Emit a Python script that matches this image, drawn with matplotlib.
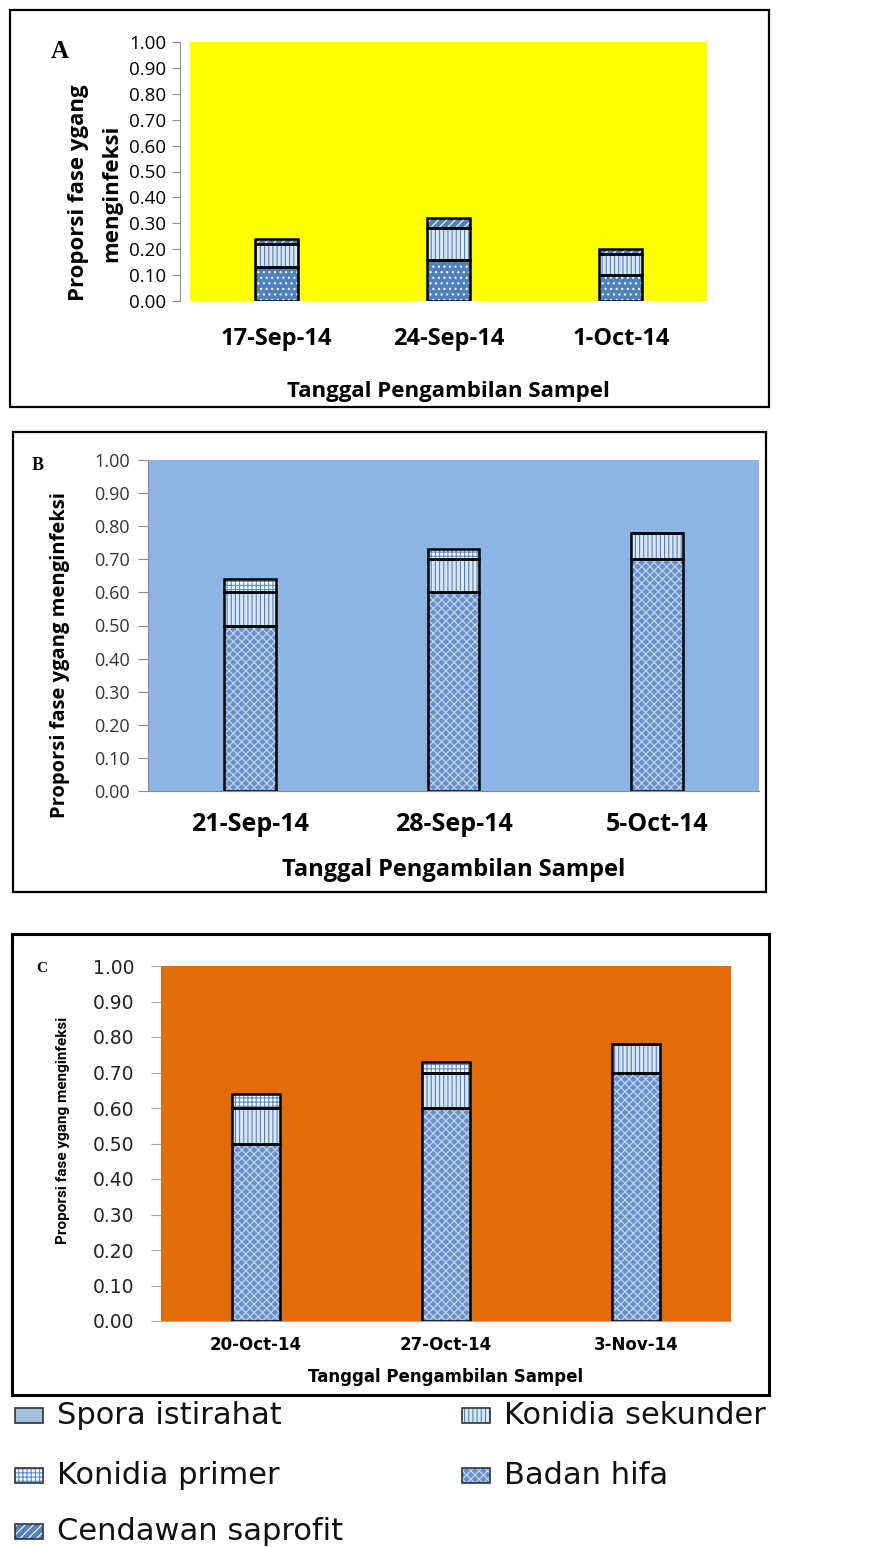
import numpy as np
import matplotlib
matplotlib.use("Agg")
import matplotlib.pyplot as plt
from matplotlib.patches import Rectangle

# ---------------- data ----------------
dates_a = ['17-Sep-14', '24-Sep-14', '1-Oct-14']
badan_hifa_a = [0.13, 0.16, 0.10]
konidia_sekunder_a = [0.09, 0.12, 0.08]
cendawan_saprofit_a = [0.02, 0.04, 0.02]

dates_b = ['21-Sep-14', '28-Sep-14', '5-Oct-14']
badan_hifa_b = [0.50, 0.60, 0.70]
konidia_sekunder_b = [0.10, 0.10, 0.08]
konidia_primer_b = [0.04, 0.03, 0.00]

dates_c = ['20-Oct-14', '27-Oct-14', '3-Nov-14']
badan_hifa_c = [0.50, 0.60, 0.70]
konidia_sekunder_c = [0.10, 0.10, 0.08]
konidia_primer_c = [0.04, 0.03, 0.00]

y_ticks = [0.0, 0.1, 0.2, 0.3, 0.4, 0.5, 0.6, 0.7, 0.8, 0.9, 1.0]
legend_labels = ['Spora istirahat', 'Konidia primer', 'Cendawan saprofit',
                 'Konidia sekunder', 'Badan hifa']

# ---------------- styles ----------------
plt.rcParams['hatch.linewidth'] = 0.8
STY = {
    'Spora istirahat': dict(fc='#A7BFDE', hatch='', hc='#A7BFDE'),
    'Konidia sekunder': dict(fc='#DCE6F2', hatch='||||', hc='#4F81BD'),
    'Konidia primer': dict(fc='#FFFFFF', hatch='++++', hc='#5B8BC6'),
    'Badan hifa': dict(fc='#6A90CC', hatch='xxxx', hc='#C6D9F1'),
    'Badan hifa A': dict(fc='#4F81BD', hatch='...', hc='#FFFFFF'),
    'Cendawan saprofit': dict(fc='#4F81BD', hatch='////', hc='#FFFFFF'),
}

W, H = 877, 1547
fig = plt.figure(figsize=(W / 100, H / 100), dpi=100)


def fx(px):
    return px / W


def fy(py):
    return 1 - py / H


def add_ax(x0, y0, x1, y1):
    return fig.add_axes([fx(x0), fy(y1), (x1 - x0) / W, (y1 - y0) / H])


def box(x0, y0, x1, y1, lw=1.6):
    fig.patches.append(Rectangle((fx(x0), fy(y1)), (x1 - x0) / W, (y1 - y0) / H,
                                 transform=fig.transFigure, fill=False,
                                 edgecolor='black', linewidth=lw))


def stack(ax, dates, layers, width=0.25, lw=1.8):
    x = np.arange(len(dates))
    bottom = np.zeros(len(dates))
    for vals, key in layers:
        s = STY[key]
        vals = np.asarray(vals)
        ax.bar(x, vals, width, bottom=bottom, color=s['fc'], hatch=s['hatch'],
               edgecolor=s['hc'], linewidth=0, zorder=2)
        ax.bar(x, vals, width, bottom=bottom, fill=False, edgecolor='black',
               linewidth=lw, zorder=3)
        bottom = bottom + vals
    ax.set_xlim(-0.5, len(dates) - 0.5)
    ax.set_ylim(0, 1.0)
    ax.set_xticks(x)
    ax.set_xticklabels(dates)
    ax.set_yticks(y_ticks)
    ax.set_yticklabels([f'{v:.2f}' for v in y_ticks])


# ---------------- Panel A ----------------
box(10, 10, 769, 407)
axA = add_ax(190, 42, 707, 301)
axA.set_facecolor('#FFFF00')
stack(axA, dates_a, [(badan_hifa_a, 'Badan hifa A'),
                     (konidia_sekunder_a, 'Konidia sekunder'),
                     (cendawan_saprofit_a, 'Cendawan saprofit')])
for sp in ['top', 'right', 'bottom']:
    axA.spines[sp].set_visible(False)
axA.spines['left'].set_position(('outward', 7))
axA.spines['left'].set_color('#8C8C8C')
axA.tick_params(axis='y', length=6, color='#8C8C8C', labelsize=13.5, pad=4)
axA.tick_params(axis='x', length=0, labelsize=17, pad=19)
for t in axA.get_yticklabels():
    t.set_fontfamily('Open Sans')
for t in axA.get_xticklabels():
    t.set_fontfamily('Open Sans')
    t.set_fontweight('bold')
axA.set_xlabel('Tanggal Pengambilan Sampel', fontfamily='Open Sans',
               fontweight='bold', fontsize=16, labelpad=21)
fig.text(fx(95), fy(193), 'Proporsi fase ygang\nmenginfeksi', fontfamily='Open Sans',
         fontweight='bold', fontsize=16, rotation=90, ha='center', va='center',
         linespacing=1.75, multialignment='center')
fig.text(fx(60), fy(52), 'A', fontfamily='Liberation Serif', fontweight='bold',
         fontsize=18, ha='center', va='center')

# ---------------- Panel B ----------------
box(13, 432, 766, 892)
axB = add_ax(148, 460, 759, 791)
axB.set_facecolor('#8EB4E3')
stack(axB, dates_b, [(badan_hifa_b, 'Badan hifa'),
                     (konidia_sekunder_b, 'Konidia sekunder'),
                     (konidia_primer_b, 'Konidia primer')], width=0.255)
for sp in ['top', 'right']:
    axB.spines[sp].set_visible(False)
axB.spines['left'].set_color('#8C8C8C')
axB.spines['bottom'].set_color('#8C8C8C')
axB.tick_params(axis='y', length=7, color='#8C8C8C', labelsize=13, pad=6,
                labelcolor='#333333')
axB.tick_params(axis='x', length=0, labelsize=18, pad=15)
for t in axB.get_yticklabels():
    t.set_fontfamily('Open Sans')
for t in axB.get_xticklabels():
    t.set_fontfamily('Open Sans')
    t.set_fontweight('bold')
axB.set_xlabel('Tanggal Pengambilan Sampel', fontfamily='Open Sans',
               fontweight='bold', fontsize=17, labelpad=15)
fig.text(fx(60), fy(655), 'Proporsi fase ygang menginfeksi', fontfamily='Open Sans',
         fontweight='bold', fontsize=14.5, rotation=90, ha='center', va='center')
fig.text(fx(38), fy(466), 'B', fontfamily='Liberation Serif', fontweight='bold',
         fontsize=13, ha='center', va='center')

# ---------------- Panel C ----------------
box(12, 934, 769, 1395, lw=2.2)
axC = add_ax(161, 966, 731, 1321)
axC.set_facecolor('#E36C0A')
stack(axC, dates_c, [(badan_hifa_c, 'Badan hifa'),
                     (konidia_sekunder_c, 'Konidia sekunder'),
                     (konidia_primer_c, 'Konidia primer')])
for sp in ['top', 'right']:
    axC.spines[sp].set_visible(False)
axC.spines['left'].set_visible(False)
axC.spines['bottom'].set_color('#A6A6A6')
axC.tick_params(axis='y', length=7, color='#A6A6A6', labelsize=13.5, pad=12,
                labelcolor='#222222')
axC.tick_params(axis='x', length=0, labelsize=12, pad=11)
for t in axC.get_yticklabels():
    t.set_fontfamily('DejaVu Sans')
for t in axC.get_xticklabels():
    t.set_fontfamily('DejaVu Sans')
    t.set_fontweight('bold')
axC.set_xlabel('Tanggal Pengambilan Sampel', fontfamily='DejaVu Sans',
               fontweight='bold', fontsize=12, labelpad=10)
fig.text(fx(63), fy(1130), 'Proporsi fase ygang menginfeksi', fontfamily='Roboto',
         fontweight='bold', fontsize=11, rotation=90, ha='center', va='center')
fig.text(fx(42), fy(968), 'C', fontfamily='Liberation Serif', fontweight='bold',
         fontsize=11, ha='center', va='center')

# ---------------- Legend ----------------
leg_pos = [(15, 1415), (15, 1475), (15, 1531), (462, 1415), (462, 1475)]
for lab, (px, py) in zip(legend_labels, leg_pos):
    s = STY[lab]
    mw, mh = 28, 15
    fig.patches.append(Rectangle((fx(px), fy(py + mh / 2)), mw / W, mh / H,
                                 transform=fig.transFigure, facecolor=s['fc'],
                                 hatch=s['hatch'], edgecolor=s['hc'], linewidth=0))
    fig.patches.append(Rectangle((fx(px), fy(py + mh / 2)), mw / W, mh / H,
                                 transform=fig.transFigure, fill=False,
                                 edgecolor='#333333', linewidth=1.2))
    fig.text(fx(px + 42), fy(py), lab, fontfamily='DejaVu Sans', fontsize=22,
             ha='left', va='center', color='#111111')

fig.savefig('out.png', dpi=100, facecolor='white')
